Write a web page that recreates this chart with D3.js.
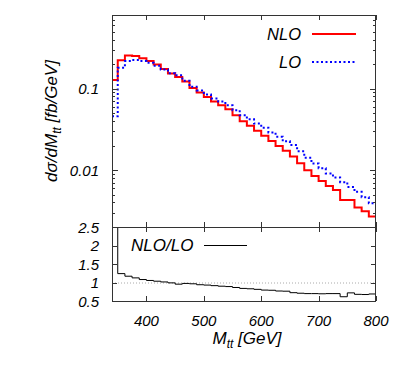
<!DOCTYPE html>
<html>
<head>
<meta charset="utf-8">
<script src="https://cdn.jsdelivr.net/npm/d3@7"></script>
<style>
  body { margin: 0; background: #fff; }
  svg { font-family: "Liberation Sans", Arial, sans-serif; font-style: italic; }
</style>
</head>
<body>
<svg width="407" height="370"></svg>
<script>
let width = 407, height = 370;

// bin edges in GeV (first bin is the threshold bin)
let binEdges = [340, 350, 362.5, 375, 387.5, 400, 412.5, 425, 437.5, 450, 462.5, 475, 487.5,
    500, 512.5, 525, 537.5, 550, 562.5, 575, 587.5, 600, 612.5, 625, 637.5, 650, 662.5,
    675, 687.5, 700, 712.5, 725, 737.5, 750, 762.5, 775, 787.5, 800];

// d sigma / d M_tt [fb/GeV]
let nlo = [0.1275, 0.2227, 0.2544, 0.2515, 0.2355, 0.2183, 0.1972, 0.1741, 0.1529, 0.1388,
    0.1219, 0.1017, 0.0893, 0.0789, 0.0692, 0.0624, 0.0557, 0.0470, 0.0396, 0.0349,
    0.0303, 0.0263, 0.0228, 0.0198, 0.0172, 0.0147, 0.0121, 0.00992, 0.00844, 0.00733,
    0.00636, 0.00568, 0.00430, 0.00430, 0.00348, 0.00313, 0.00270];
let lo = [0.0457, 0.1796, 0.2174, 0.2236, 0.2181, 0.2069, 0.1905, 0.1715, 0.1544, 0.1453,
    0.1250, 0.1054, 0.0950, 0.0848, 0.0756, 0.0693, 0.0626, 0.0543, 0.0471, 0.0420,
    0.0372, 0.0331, 0.0289, 0.0257, 0.0225, 0.0203, 0.0170, 0.01417, 0.01206, 0.01055,
    0.00909, 0.00811, 0.0071, 0.0062, 0.0054, 0.00464, 0.0039];
// NLO/LO ratio
let ratio = [2.79, 1.24, 1.17, 1.125, 1.08, 1.055, 1.035, 1.015, 0.99, 0.955,
    0.975, 0.965, 0.94, 0.93, 0.915, 0.90, 0.89, 0.865, 0.84, 0.83,
    0.815, 0.795, 0.79, 0.77, 0.765, 0.725, 0.71, 0.70, 0.70, 0.695,
    0.70, 0.70, 0.615, 0.72, 0.68, 0.675, 0.69];

let xTicks = [400, 500, 600, 700, 800];
let yTopLabels = [0.1, 0.01];
let yRatioTicks = [0.5, 1, 1.5, 2, 2.5];

let svg = d3.select("svg");

let pLeft = 112, pRight = 376, pTop = 15, pMid = 227, pBottom = 301;

let x = d3.scaleLinear().domain([340, 800]).range([pLeft, pRight]);
let yTop = d3.scaleLog().domain([0.002, 0.8]).range([pMid, pTop]);
let yRat = d3.scaleLinear().domain([0.5, 2.5]).range([pBottom, pMid]);

svg.append("defs").selectAll("clipPath")
    .data([["clipTop", pTop, pMid], ["clipRat", pMid, pBottom]])
    .join("clipPath")
    .attr("id", d => d[0])
    .append("rect")
    .attr("x", pLeft).attr("y", d => d[1])
    .attr("width", pRight - pLeft).attr("height", d => d[2] - d[1]);

// step path for a histogram
function stepPath(vals, yScale, yEnd) {
    let p = "M" + x(binEdges[0]) + "," + yScale(vals[0]);
    vals.forEach((v, i) => {
        if (i > 0) p += "V" + yScale(v);
        p += "H" + x(binEdges[i + 1]);
    });
    if (yEnd != null) p += "V" + yEnd;
    return p;
}

// ratio = 1 reference line
svg.append("line")
    .attr("x1", pLeft).attr("x2", pRight)
    .attr("y1", yRat(1) + 0.5).attr("y2", yRat(1) + 0.5)
    .attr("stroke", "#aaa")
    .attr("stroke-dasharray", "1,2");

// curves
svg.append("path")
    .attr("clip-path", "url(#clipTop)")
    .attr("d", stepPath(nlo, yTop, pMid))
    .attr("fill", "none")
    .attr("stroke", "#ff0000")
    .attr("stroke-width", 2);

svg.append("path")
    .attr("clip-path", "url(#clipTop)")
    .attr("d", stepPath(lo, yTop, pMid))
    .attr("fill", "none")
    .attr("stroke", "#0000ff")
    .attr("stroke-width", 2)
    .attr("stroke-dasharray", "2,2.5");

svg.append("path")
    .attr("clip-path", "url(#clipRat)")
    .attr("d", stepPath(ratio, yRat, null))
    .attr("fill", "none")
    .attr("stroke", "#000")
    .attr("stroke-width", 1);

// frames
let axisColor = "#333";
[[pTop, pMid], [pMid, pBottom]].forEach(r => {
    svg.append("rect")
        .attr("x", pLeft + 0.5).attr("y", r[0] + 0.5)
        .attr("width", pRight - pLeft - 1).attr("height", r[1] - r[0])
        .attr("fill", "none")
        .attr("stroke", axisColor);
});

let tickG = svg.append("g").attr("stroke", axisColor);

// x ticks on every horizontal frame line
[[pTop, 1], [pMid, -1], [pMid, 1], [pBottom, -1]].forEach(t => {
    tickG.append("g").selectAll("line")
        .data(xTicks)
        .join("line")
        .attr("x1", d => Math.round(x(d)) + 0.5).attr("x2", d => Math.round(x(d)) + 0.5)
        .attr("y1", t[0]).attr("y2", t[0] + 5 * t[1]);
});

// log ticks for the top panel
let logTicks = [];
[0.001, 0.01, 0.1].forEach(dec => {
    for (let m = 1; m <= 9; m++) {
        let v = m * dec;
        if (v >= 0.002 && v <= 0.8) logTicks.push({ v: v, major: m == 1 });
    }
});
[[pLeft, 1], [pRight, -1]].forEach(s => {
    tickG.append("g").selectAll("line")
        .data(logTicks)
        .join("line")
        .attr("x1", s[0]).attr("x2", d => s[0] + (d.major ? 6 : 3) * s[1])
        .attr("y1", d => Math.round(yTop(d.v)) + 0.5)
        .attr("y2", d => Math.round(yTop(d.v)) + 0.5);

    tickG.append("g").selectAll("line")
        .data(yRatioTicks)
        .join("line")
        .attr("x1", s[0]).attr("x2", s[0] + 5 * s[1])
        .attr("y1", d => Math.round(yRat(d)) + 0.5)
        .attr("y2", d => Math.round(yRat(d)) + 0.5);
});

// tick labels
svg.append("g").selectAll("text")
    .data(xTicks)
    .join("text")
    .attr("x", d => x(d))
    .attr("y", 326)
    .attr("text-anchor", "middle")
    .attr("font-size", 15)
    .text(d => d);

svg.append("g").selectAll("text")
    .data(yTopLabels)
    .join("text")
    .attr("x", 99)
    .attr("y", d => yTop(d) + 5.5)
    .attr("text-anchor", "end")
    .attr("font-size", 15)
    .text(d => d);

svg.append("g").selectAll("text")
    .data(yRatioTicks)
    .join("text")
    .attr("x", 99)
    .attr("y", d => yRat(d) + 5.5)
    .attr("text-anchor", "end")
    .attr("font-size", 15)
    .text(d => d);

// axis titles
let xt = svg.append("text")
    .attr("x", 247).attr("y", 344)
    .attr("text-anchor", "middle")
    .attr("font-size", 17);
xt.append("tspan").text("M");
xt.append("tspan").attr("font-size", 12).attr("dy", 4).text("tt");
xt.append("tspan").attr("dy", -4).text(" [GeV]");

let yt = svg.append("text")
    .attr("transform", "translate(57,121) rotate(-90)")
    .attr("text-anchor", "middle")
    .attr("font-size", 17);
yt.append("tspan").text("dσ/dM");
yt.append("tspan").attr("font-size", 12).attr("dy", 4).text("tt");
yt.append("tspan").attr("dy", -4).text(" [fb/GeV]");

// legends
let legend = [
    { label: "NLO", y: 34, color: "#ff0000", dash: null, w: 2 },
    { label: "LO", y: 62, color: "#0000ff", dash: "2,2.5", w: 2 }
];
let lg = svg.append("g").selectAll("g").data(legend).join("g");
lg.append("text")
    .attr("x", 301).attr("y", d => d.y + 6)
    .attr("text-anchor", "end")
    .attr("font-size", 16.5)
    .text(d => d.label);
lg.append("line")
    .attr("x1", 312).attr("x2", 356)
    .attr("y1", d => d.y).attr("y2", d => d.y)
    .attr("stroke", d => d.color)
    .attr("stroke-width", d => d.w)
    .attr("stroke-dasharray", d => d.dash);

svg.append("text")
    .attr("x", 131).attr("y", 251)
    .attr("font-size", 17)
    .text("NLO/LO");
svg.append("line")
    .attr("x1", 204).attr("x2", 247)
    .attr("y1", 245.5).attr("y2", 245.5)
    .attr("stroke", "#000");
</script>
</body>
</html>
